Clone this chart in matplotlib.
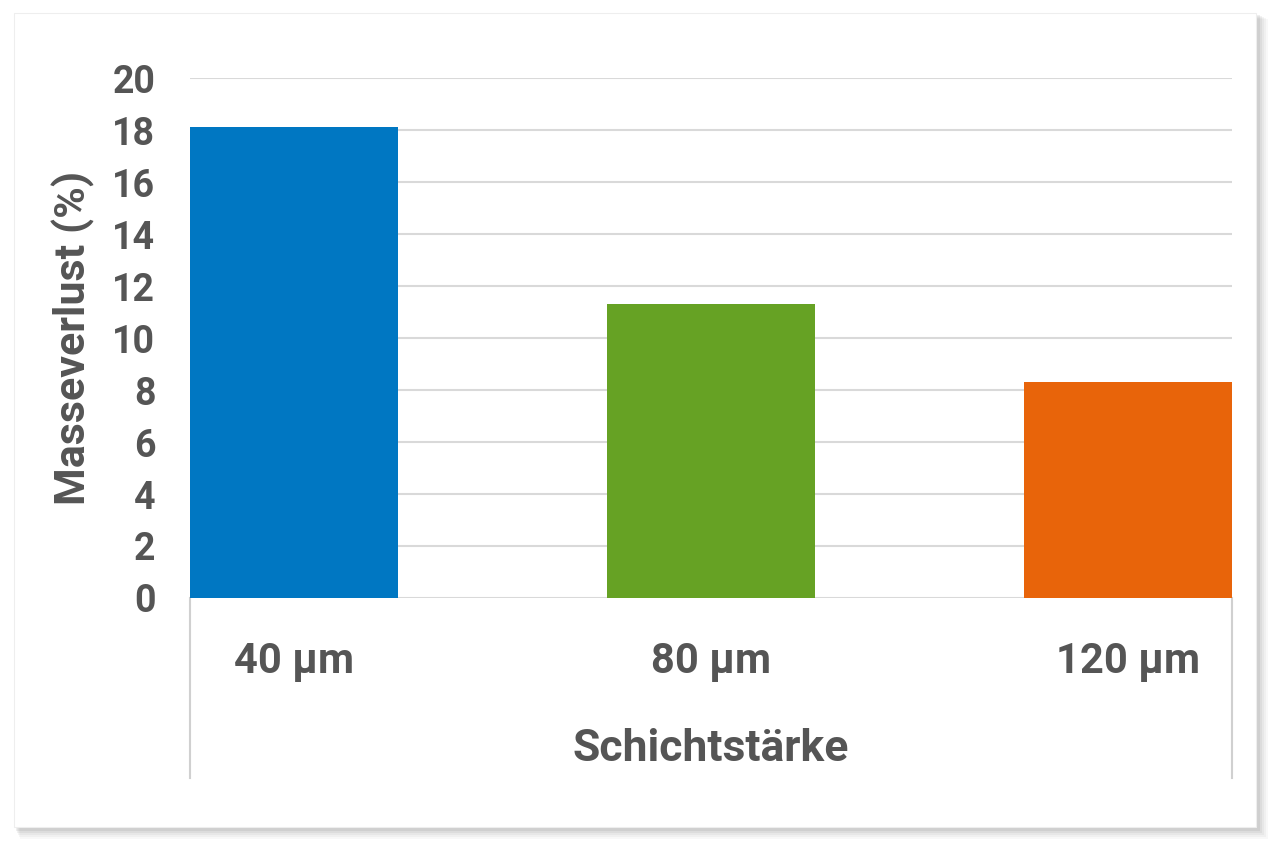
import matplotlib
matplotlib.use("Agg")
import matplotlib.pyplot as plt
from matplotlib.patches import Rectangle
from matplotlib.lines import Line2D

categories = ["40 µm", "80 µm", "120 µm"]
values = [18.1, 11.3, 8.3]
colors = ["#0077C2", "#66A224", "#E8640A"]
yticks = [0, 2, 4, 6, 8, 10, 12, 14, 16, 18, 20]

TXT = "#555555"
FONT = ["Roboto", "DejaVu Sans"]

W, H = 1280, 851
fig = plt.figure(figsize=(W / 100, H / 100), dpi=100)
fig.patch.set_facecolor("white")

def px(x0, y0, x1, y1):
    return (x0 / W, 1 - y1 / H, (x1 - x0) / W, (y1 - y0) / H)

# card shadow
for i, a in enumerate([0.04, 0.05, 0.06, 0.08, 0.10]):
    d = 12 - 2 * i
    l, b, w, h = px(14 + d * 0.5, 13 + d * 0.5, 1256 + d, 827 + d)
    fig.patches.append(Rectangle((l, b), w, h, transform=fig.transFigure,
                                 facecolor="#606060", edgecolor="none", alpha=a, zorder=0))
l, b, w, h = px(14, 13, 1256, 827)
fig.patches.append(Rectangle((l, b), w, h, transform=fig.transFigure,
                             facecolor="white", edgecolor="#eeeeee", lw=0.8, zorder=1))

ax = fig.add_axes(px(190, 78, 1232, 598))
ax.set_facecolor("none")
ax.set_zorder(2)
x = list(range(len(categories)))
ax.bar(x, values, width=0.5, color=colors, zorder=3)
ax.set_xlim(-0.25, 2.25)
ax.set_ylim(0, 20)
ax.set_yticks(yticks)
ax.set_yticklabels([str(t) for t in yticks])
ax.grid(axis="y", color="#d9d9d9", lw=1.5, zorder=0)
ax.set_axisbelow(True)
for s in ax.spines.values():
    s.set_visible(False)
ax.tick_params(axis="both", length=0)
ax.tick_params(axis="y", pad=25)
ax.tick_params(axis="x", pad=31)
ax.set_xticks(x)
ax.set_xticklabels(categories)
for t in ax.get_yticklabels():
    t.set_fontfamily(FONT); t.set_fontweight("bold"); t.set_fontsize(27); t.set_color(TXT)
for t in ax.get_xticklabels():
    t.set_fontfamily(FONT); t.set_fontweight("bold"); t.set_fontsize(30); t.set_color(TXT)

# category axis divider lines below plot
tr = ax.get_xaxis_transform()
for xv in (-0.25, 2.25):
    ax.add_line(Line2D([xv, xv], [0, -(778 - 598) / 520], transform=tr, color="#d0d0d0",
                       lw=1.5, clip_on=False))

fig.text(711 / W, 1 - 749 / H, "Schichtstärke", ha="center", va="center",
         fontfamily=FONT, fontweight="bold", fontsize=32, color=TXT)
fig.text(73 / W, 1 - 338 / H, "Masseverlust (%)", ha="center", va="center", rotation=90,
         fontfamily=FONT, fontweight="bold", fontsize=31, color=TXT)

fig.savefig("out.png", dpi=100, facecolor=fig.get_facecolor())
